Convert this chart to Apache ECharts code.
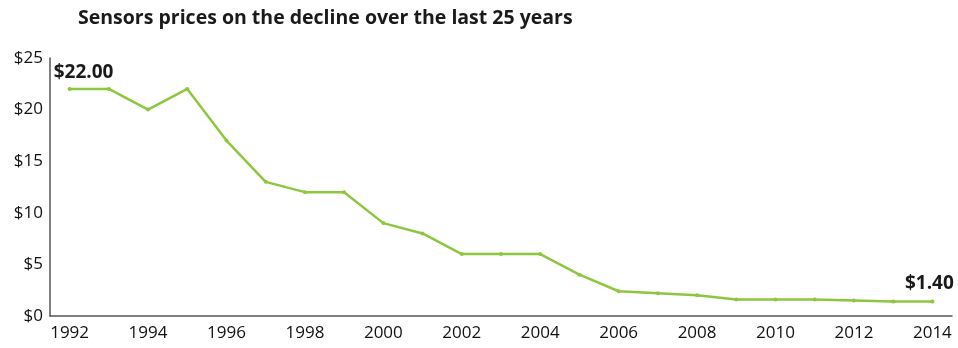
<!DOCTYPE html>
<html>
<head>
<meta charset="utf-8">
<script src="https://cdn.jsdelivr.net/npm/echarts@6/dist/echarts.min.js"></script>
<style>
  html, body { margin: 0; padding: 0; background: #fff; }
  #chart { width: 958px; height: 348px; }
</style>
</head>
<body>
<div id="chart"></div>
<script>
// years on the x axis
const years = ['1992', '1993', '1994', '1995', '1996', '1997', '1998', '1999', '2000', '2001', '2002',
  '2003', '2004', '2005', '2006', '2007', '2008', '2009', '2010', '2011', '2012', '2013', '2014']
// average sensor price, USD
const prices = [22, 22, 20, 22, 17, 13, 12, 12, 9, 8, 6, 6, 6, 4, 2.4, 2.2, 2, 1.6, 1.6, 1.6, 1.5, 1.4, 1.4]
const yTicks = [0, 5, 10, 15, 20, 25]

const font = '"Open Sans", "Noto Sans", sans-serif'
const green = '#8dc63f'

// only first and last point get a value label
const seriesData = prices.map((v, i) => {
  if (i === 0) {
    return { value: v, label: { show: true, position: 'top', offset: [14, 0] } }
  }
  if (i === prices.length - 1) {
    return { value: v, label: { show: true, position: 'top', offset: [-3, -1] } }
  }
  return v
})

const chart = echarts.init(document.getElementById('chart'))
chart.setOption({
  animation: false,
  title: {
    text: 'Sensors prices on the decline over the last 25 years',
    left: 73,
    top: 3,
    textStyle: { fontFamily: font, fontSize: 19.5, fontWeight: 'bold', color: '#1a1a1a' }
  },
  grid: { left: 50, right: 6, top: 58, bottom: 32 },
  xAxis: {
    type: 'category',
    data: years,
    boundaryGap: true,
    axisLine: { lineStyle: { color: '#555', width: 1.5 } },
    axisTick: { show: false },
    axisLabel: { interval: 1, margin: 9, fontFamily: font, fontSize: 17, color: '#111' }
  },
  yAxis: {
    type: 'value',
    min: yTicks[0],
    max: yTicks[yTicks.length - 1],
    interval: 5,
    axisLine: { show: true, lineStyle: { color: '#555', width: 1.5 } },
    axisTick: { show: false },
    splitLine: { show: false },
    axisLabel: {
      margin: 7,
      padding: [0, 0, 10, 0],
      fontFamily: font,
      fontSize: 17,
      color: '#111',
      formatter: v => '$' + v
    }
  },
  series: [
    {
      type: 'line',
      data: seriesData,
      symbol: 'circle',
      symbolSize: 4,
      lineStyle: { color: green, width: 2.5 },
      itemStyle: { color: green },
      label: {
        show: false,
        fontFamily: font,
        fontSize: 19,
        fontWeight: 'bold',
        color: '#1a1a1a',
        formatter: p => '$' + p.value.toFixed(2)
      }
    }
  ]
})
</script>
</body>
</html>
